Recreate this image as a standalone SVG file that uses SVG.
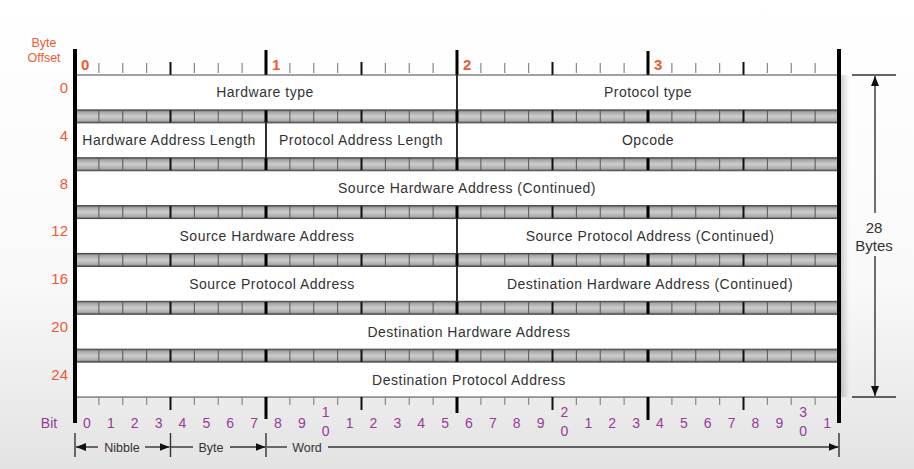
<svg xmlns="http://www.w3.org/2000/svg" width="914" height="469" viewBox="0 0 914 469">
<defs>
<linearGradient id="bgGrad" x1="0" y1="0" x2="0" y2="1">
<stop offset="0" stop-color="#ffffff"/>
<stop offset="0.6" stop-color="#f9f9f9"/>
<stop offset="1" stop-color="#e3e3e3"/>
</linearGradient>
<linearGradient id="bandGrad" x1="0" y1="0" x2="0" y2="1">
<stop offset="0" stop-color="#555"/>
<stop offset="0.16" stop-color="#a6a6a6"/>
<stop offset="0.5" stop-color="#cdcdcd"/>
<stop offset="0.84" stop-color="#acacac"/>
<stop offset="1" stop-color="#555"/>
</linearGradient>
<linearGradient id="shadowGrad" x1="0" y1="0" x2="1" y2="0">
<stop offset="0" stop-color="#000" stop-opacity="0.18"/>
<stop offset="1" stop-color="#000" stop-opacity="0"/>
</linearGradient>
<marker id="ah" viewBox="0 0 10 8" refX="10" refY="4" markerWidth="10" markerHeight="8" markerUnits="userSpaceOnUse" orient="auto">
<path d="M0 0L10 4L0 8z" fill="#111"/>
</marker>
<g id="band">
<rect x="75" y="0" width="764" height="13" fill="url(#bandGrad)"/>
<path class="bit" d="M98.875 0v13M122.75 0v13M146.625 0v13M194.375 0v13M218.25 0v13M242.125 0v13M289.875 0v13M313.75 0v13M337.625 0v13M385.375 0v13M409.25 0v13M433.125 0v13M480.875 0v13M504.75 0v13M528.625 0v13M576.375 0v13M600.25 0v13M624.125 0v13M671.875 0v13M695.75 0v13M719.625 0v13M767.375 0v13M791.25 0v13M815.125 0v13"/>
<path class="nib" d="M170.5 0v13M361.5 0v13M552.5 0v13M743.5 0v13"/>
<path class="byt" d="M266 0v13M457 0v13M648 0v13"/>
</g>
</defs>
<style>
.row{fill:#fff;stroke:#444;stroke-width:1}
.bit{stroke:#555;stroke-width:1;fill:none}
.nib{stroke:#111;stroke-width:2;fill:none}
.byt{stroke:#000;stroke-width:3;fill:none}
.rt{stroke:#888;stroke-width:1.2;fill:none}
.div{stroke:#111;stroke-width:1.5}
.edge{stroke:#000;stroke-width:4;fill:none}
.ft{font-family:"Liberation Sans",Arial,sans-serif;font-size:14px;fill:#333;text-anchor:middle;letter-spacing:0.5px}
.or{font-family:"Liberation Sans",Arial,sans-serif;fill:#ee5a33}
.off{font-size:15px;text-anchor:end}
.top{font-size:15px;font-weight:bold}
.bt{font-family:"Liberation Sans",Arial,sans-serif;font-size:14px;fill:#953c95;text-anchor:middle}
.lab{font-family:"Liberation Sans",Arial,sans-serif;font-size:12.5px;fill:#333;text-anchor:middle}
.dim{stroke:#333;stroke-width:1.4;fill:none}
.dimt{font-family:"Liberation Sans",Arial,sans-serif;font-size:15px;fill:#333;text-anchor:middle}
</style>
<rect width="914" height="469" fill="url(#bgGrad)"/>
<rect x="841" y="75" width="8" height="322" fill="url(#shadowGrad)"/>

<g id="byte-offset-header">
<text class="or" x="44" y="47" font-size="12.5" text-anchor="middle">Byte</text>
<text class="or" x="44" y="62" font-size="12.5" text-anchor="middle">Offset</text>
</g>
<g id="offsets">
<text class="or off" x="68" y="93">0</text>
<text class="or off" x="68" y="141">4</text>
<text class="or off" x="68" y="189">8</text>
<text class="or off" x="68" y="236">12</text>
<text class="or off" x="68" y="284">16</text>
<text class="or off" x="68" y="332">20</text>
<text class="or off" x="68" y="380">24</text>
</g>
<g id="top-ruler">
<path class="rt" d="M98.875 63v10M122.75 63v10M146.625 63v10M194.375 63v10M218.25 63v10M242.125 63v10M289.875 63v10M313.75 63v10M337.625 63v10M385.375 63v10M409.25 63v10M433.125 63v10M480.875 63v10M504.75 63v10M528.625 63v10M576.375 63v10M600.25 63v10M624.125 63v10M671.875 63v10M695.75 63v10M719.625 63v10M767.375 63v10M791.25 63v10M815.125 63v10"/>
<path class="nib" d="M170.5 62v13M361.5 62v13M552.5 62v13M743.5 62v13"/>
<path class="byt" d="M266 50v25M457 50v25M648 51v24"/>
<text class="or top" x="81" y="70">0</text>
<text class="or top" x="272" y="70">1</text>
<text class="or top" x="463" y="70">2</text>
<text class="or top" x="654" y="70">3</text>
</g>

<g id="bands">
<use href="#band" transform="translate(0 109.86)"/>
<use href="#band" transform="translate(0 157.72)"/>
<use href="#band" transform="translate(0 205.58)"/>
<use href="#band" transform="translate(0 253.44)"/>
<use href="#band" transform="translate(0 301.3)"/>
<use href="#band" transform="translate(0 349.16)"/>
</g>

<g id="f-hardware-type"><rect class="row" x="75" y="75" width="382" height="34.86"/><text class="ft" x="265" y="97.4">Hardware type</text></g>
<g id="f-protocol-type"><rect class="row" x="457" y="75" width="382" height="34.86"/><text class="ft" x="648" y="97.4">Protocol type</text></g>
<g id="f-hw-addr-len"><rect class="row" x="75" y="122.86" width="191" height="34.86"/><text class="ft" x="169" y="145.3">Hardware Address Length</text></g>
<g id="f-proto-addr-len"><rect class="row" x="266" y="122.86" width="191" height="34.86"/><text class="ft" x="361" y="145.3">Protocol Address Length</text></g>
<g id="f-opcode"><rect class="row" x="457" y="122.86" width="382" height="34.86"/><text class="ft" x="648" y="145.3">Opcode</text></g>
<g id="f-sha-cont"><rect class="row" x="75" y="170.72" width="764" height="34.86"/><text class="ft" x="467" y="193.1">Source Hardware Address (Continued)</text></g>
<g id="f-sha"><rect class="row" x="75" y="218.58" width="382" height="34.86"/><text class="ft" x="267" y="241">Source Hardware Address</text></g>
<g id="f-spa-cont"><rect class="row" x="457" y="218.58" width="382" height="34.86"/><text class="ft" x="650" y="241">Source Protocol Address (Continued)</text></g>
<g id="f-spa"><rect class="row" x="75" y="266.44" width="382" height="34.86"/><text class="ft" x="272" y="288.8">Source Protocol Address</text></g>
<g id="f-dha-cont"><rect class="row" x="457" y="266.44" width="382" height="34.86"/><text class="ft" x="650" y="288.8">Destination Hardware Address (Continued)</text></g>
<g id="f-dha"><rect class="row" x="75" y="314.3" width="764" height="34.86"/><text class="ft" x="469" y="336.7">Destination Hardware Address</text></g>
<g id="f-dpa"><rect class="row" x="75" y="362.16" width="764" height="34.86"/><text class="ft" x="469" y="384.6">Destination Protocol Address</text></g>

<g id="bottom-ruler">
<path class="rt" d="M98.875 397v8M122.75 397v8M146.625 397v8M194.375 397v8M218.25 397v8M242.125 397v8M289.875 397v8M313.75 397v8M337.625 397v8M385.375 397v8M409.25 397v8M433.125 397v8M480.875 397v8M504.75 397v8M528.625 397v8M576.375 397v8M600.25 397v8M624.125 397v8M671.875 397v8M695.75 397v8M719.625 397v8M767.375 397v8M791.25 397v8M815.125 397v8"/>
<path class="nib" d="M170.5 397v13M361.5 397v13M552.5 397v13M743.5 397v13"/>
<path class="byt" d="M266 397v22M457 397v16M648 397v23"/>
<text class="bt" x="49" y="428">Bit</text>
<text class="bt" x="86.94" y="428">0</text>
<text class="bt" x="110.81" y="428">1</text>
<text class="bt" x="134.69" y="428">2</text>
<text class="bt" x="158.56" y="428">3</text>
<text class="bt" x="182.44" y="428">4</text>
<text class="bt" x="206.31" y="428">5</text>
<text class="bt" x="230.19" y="428">6</text>
<text class="bt" x="254.06" y="428">7</text>
<text class="bt" x="277.94" y="428">8</text>
<text class="bt" x="301.81" y="428">9</text>
<text class="bt" x="325.69" y="417">1</text>
<text class="bt" x="325.69" y="436">0</text>
<text class="bt" x="349.56" y="428">1</text>
<text class="bt" x="373.44" y="428">2</text>
<text class="bt" x="397.31" y="428">3</text>
<text class="bt" x="421.19" y="428">4</text>
<text class="bt" x="445.06" y="428">5</text>
<text class="bt" x="468.94" y="428">6</text>
<text class="bt" x="492.81" y="428">7</text>
<text class="bt" x="516.69" y="428">8</text>
<text class="bt" x="540.56" y="428">9</text>
<text class="bt" x="564.44" y="417">2</text>
<text class="bt" x="564.44" y="436">0</text>
<text class="bt" x="588.31" y="428">1</text>
<text class="bt" x="612.19" y="428">2</text>
<text class="bt" x="636.06" y="428">3</text>
<text class="bt" x="659.94" y="428">4</text>
<text class="bt" x="683.81" y="428">5</text>
<text class="bt" x="707.69" y="428">6</text>
<text class="bt" x="731.56" y="428">7</text>
<text class="bt" x="755.44" y="428">8</text>
<text class="bt" x="779.31" y="428">9</text>
<text class="bt" x="803.19" y="417">3</text>
<text class="bt" x="803.19" y="436">0</text>
<text class="bt" x="827.06" y="428">1</text>
</g>

<g id="dividers">
<path class="div" d="M457 75v34.86M266 122.86v34.86M457 122.86v34.86M457 218.58v34.86M457 266.44v34.86"/>
<path class="edge" d="M75 49v374M839 49v374"/>
</g>

<g id="connectors">
<path class="dim" d="M75 433v24M170.5 433v24M266 433v24M839 433v24"/>
<path class="dim" d="M98 447H76" marker-end="url(#ah)"/>
<path class="dim" d="M145 447H169.5" marker-end="url(#ah)"/>
<path class="dim" d="M171 447H193"/>
<path class="dim" d="M230 447H265.5" marker-end="url(#ah)"/>
<path class="dim" d="M267 447H287"/>
<path class="dim" d="M328 447H838.5" marker-end="url(#ah)"/>
<path class="dim" d="M852 75H896M852 397H896"/>
<path class="dim" d="M875 213V76" marker-end="url(#ah)"/>
<path class="dim" d="M875 256V396" marker-end="url(#ah)"/>
</g>
<g id="unit-labels">
<text class="lab" x="122" y="451.5">Nibble</text>
<text class="lab" x="211" y="451.5">Byte</text>
<text class="lab" x="307" y="451.5">Word</text>
</g>
<g id="size-label">
<text class="dimt" x="874" y="233">28</text>
<text class="dimt" x="874" y="251">Bytes</text>
</g>
</svg>
